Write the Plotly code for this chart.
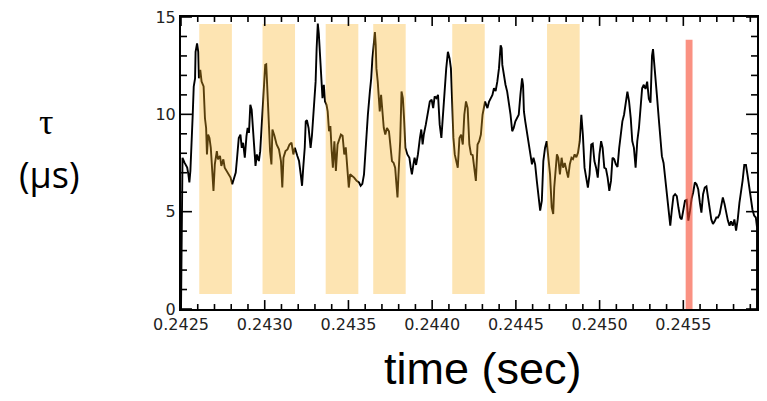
import plotly.graph_objects as go

# ---- data ----
time_s = [
    0.242500, 0.242509, 0.242521, 0.242537, 0.242544, 0.242550, 0.242556, 0.242560, 0.242570, 0.242576,
    0.242584, 0.242587, 0.242596, 0.242603, 0.242607, 0.242615, 0.242623, 0.242635, 0.242643, 0.242650,
    0.242655, 0.242662, 0.242670, 0.242678, 0.242686, 0.242694, 0.242702, 0.242714, 0.242721, 0.242733,
    0.242741, 0.242753, 0.242761, 0.242773, 0.242786, 0.242796, 0.242806, 0.242816, 0.242827, 0.242835,
    0.242845, 0.242855, 0.242863, 0.242871, 0.242881, 0.242891, 0.242898, 0.242906, 0.242914, 0.242922,
    0.242930, 0.242938, 0.242945, 0.242953, 0.242965, 0.242973, 0.242981, 0.242989, 0.242997, 0.243003,
    0.243009, 0.243016, 0.243022, 0.243032, 0.243040, 0.243046, 0.243058, 0.243071, 0.243085, 0.243097,
    0.243105, 0.243112, 0.243124, 0.243136, 0.243148, 0.243160, 0.243171, 0.243180, 0.243195, 0.243205,
    0.243215, 0.243223, 0.243230, 0.243239, 0.243245, 0.243252, 0.243262, 0.243268, 0.243274, 0.243282,
    0.243289, 0.243298, 0.243304, 0.243310, 0.243317, 0.243323, 0.243329, 0.243337, 0.243345, 0.243353,
    0.243360, 0.243369, 0.243376, 0.243384, 0.243392, 0.243400, 0.243407, 0.243416, 0.243425, 0.243435,
    0.243447, 0.243455, 0.243465, 0.243475, 0.243484, 0.243494, 0.243502, 0.243510, 0.243522, 0.243534,
    0.243549, 0.243563, 0.243573, 0.243583, 0.243593, 0.243600, 0.243608, 0.243616, 0.243628, 0.243636,
    0.243643, 0.243652, 0.243658, 0.243663, 0.243667, 0.243675, 0.243681, 0.243687, 0.243695, 0.243702,
    0.243711, 0.243720, 0.243730, 0.243742, 0.243750, 0.243760, 0.243770, 0.243779, 0.243785, 0.243793,
    0.243799, 0.243809, 0.243817, 0.243825, 0.243832, 0.243840, 0.243852, 0.243864, 0.243872, 0.243879,
    0.243888, 0.243895, 0.243904, 0.243915, 0.243927, 0.243935, 0.243943, 0.243950, 0.243962, 0.243974,
    0.243986, 0.243997, 0.244006, 0.244015, 0.244025, 0.244035, 0.244045, 0.244055, 0.244065, 0.244074,
    0.244084, 0.244094, 0.244104, 0.244112, 0.244120, 0.244127, 0.244135, 0.244143, 0.244153, 0.244163,
    0.244173, 0.244183, 0.244192, 0.244202, 0.244212, 0.244222, 0.244232, 0.244242, 0.244251, 0.244261,
    0.244271, 0.244281, 0.244291, 0.244301, 0.244316, 0.244330, 0.244340, 0.244350, 0.244360, 0.244369,
    0.244379, 0.244389, 0.244399, 0.244409, 0.244415, 0.244419, 0.244428, 0.244438, 0.244448, 0.244458,
    0.244468, 0.244478, 0.244487, 0.244497, 0.244517, 0.244527, 0.244537, 0.244543, 0.244548, 0.244556,
    0.244566, 0.244576, 0.244586, 0.244596, 0.244605, 0.244615, 0.244625, 0.244635, 0.244645, 0.244655,
    0.244664, 0.244674, 0.244684, 0.244694, 0.244704, 0.244714, 0.244723, 0.244729, 0.244737, 0.244745,
    0.244753, 0.244763, 0.244773, 0.244782, 0.244792, 0.244802, 0.244812, 0.244822, 0.244832, 0.244841,
    0.244851, 0.244861, 0.244871, 0.244881, 0.244891, 0.244900, 0.244910, 0.244920, 0.244930, 0.244940,
    0.244950, 0.244959, 0.244969, 0.244979, 0.244989, 0.244999, 0.245009, 0.245018, 0.245028, 0.245038,
    0.245048, 0.245058, 0.245068, 0.245077, 0.245087, 0.245097, 0.245107, 0.245117, 0.245127, 0.245136,
    0.245146, 0.245156, 0.245166, 0.245176, 0.245186, 0.245195, 0.245205, 0.245215, 0.245225, 0.245235,
    0.245245, 0.245254, 0.245264, 0.245274, 0.245284, 0.245294, 0.245304, 0.245313, 0.245319, 0.245327,
    0.245335, 0.245343, 0.245353, 0.245363, 0.245372, 0.245382, 0.245392, 0.245402, 0.245412, 0.245422,
    0.245431, 0.245441, 0.245451, 0.245461, 0.245471, 0.245481, 0.245490, 0.245500, 0.245510, 0.245520,
    0.245530, 0.245540, 0.245549, 0.245559, 0.245569, 0.245579, 0.245589, 0.245599, 0.245608, 0.245618,
    0.245628, 0.245638, 0.245648, 0.245658, 0.245667, 0.245677, 0.245687, 0.245697, 0.245707, 0.245717,
    0.245726, 0.245736, 0.245746, 0.245756, 0.245766, 0.245776, 0.245785, 0.245795, 0.245805, 0.245815,
    0.245825, 0.245835, 0.245844, 0.245854, 0.245864, 0.245874, 0.245884, 0.245894, 0.245903, 0.245913,
    0.245923, 0.245933, 0.245940, 0.245940,
]
tau_us = [
    0.0, 7.77, 7.52, 7.26, 6.92, 6.50, 7.09, 8.28, 9.98, 11.43,
    11.85, 13.21, 13.64, 13.21, 11.85, 12.28, 11.68, 11.43, 9.81, 9.30,
    7.94, 8.96, 8.79, 8.28, 7.26, 6.07, 7.43, 8.11, 7.69, 7.86,
    7.35, 7.69, 7.26, 7.09, 6.92, 6.75, 6.41, 6.75, 7.01, 7.77,
    8.79, 8.96, 8.28, 8.54, 7.77, 8.88, 9.30, 9.05, 10.49, 10.24,
    9.13, 7.77, 7.35, 7.94, 7.60, 8.11, 9.30, 10.49, 11.26, 12.54,
    12.57, 11.20, 9.30, 8.11, 7.43, 9.22, 8.90, 8.45, 8.20, 7.60,
    6.24, 7.77, 8.11, 8.20, 8.45, 8.54, 7.94, 8.28, 7.86, 7.60,
    6.92, 6.33, 7.26, 8.28, 9.64, 9.70, 9.30, 8.79, 8.28, 8.90,
    9.98, 10.83, 11.68, 13.38, 14.66, 14.15, 13.21, 11.68, 10.83, 11.52,
    10.66, 10.49, 10.15, 9.13, 9.40, 8.11, 7.26, 8.62, 7.09, 8.45,
    8.71, 8.96, 8.90, 7.94, 8.30, 7.26, 6.24, 6.92, 6.85, 6.75,
    6.58, 6.50, 6.33, 6.43, 6.92, 7.94, 8.96, 9.98, 11.17, 11.85,
    12.87, 13.72, 14.23, 13.55, 12.36, 11.68, 11.00, 10.15, 11.00, 9.98,
    9.30, 8.96, 9.30, 9.13, 8.28, 7.60, 7.50, 7.26, 6.58, 5.73,
    6.92, 8.62, 11.17, 10.83, 9.81, 8.28, 7.94, 7.77, 7.26, 6.92,
    7.43, 7.77, 7.40, 7.94, 8.79, 9.22, 8.45, 8.96, 9.47, 9.98,
    10.66, 10.75, 10.32, 10.92, 10.83, 11.00, 9.47, 8.79, 10.15, 11.34,
    12.36, 13.21, 12.87, 12.36, 10.15, 8.79, 7.94, 7.60, 7.26, 8.79,
    8.96, 8.45, 9.98, 10.66, 10.32, 8.45, 7.94, 7.90, 7.26, 6.58,
    8.45, 8.62, 8.96, 9.98, 10.66, 10.32, 10.66, 10.83, 11.00, 11.34,
    11.20, 11.68, 12.36, 13.55, 13.40, 12.54, 12.03, 11.52, 11.17, 10.66,
    9.98, 9.13, 9.30, 9.64, 9.98, 11.00, 11.85, 11.50, 10.15, 9.64,
    9.13, 8.62, 7.94, 7.43, 7.77, 7.43, 6.58, 5.73, 5.05, 5.56,
    7.60, 8.28, 8.62, 7.77, 6.92, 5.22, 4.88, 6.24, 7.26, 7.94,
    7.77, 6.92, 7.77, 7.26, 7.50, 7.09, 6.75, 7.43, 7.77, 7.70,
    7.94, 7.80, 8.03, 8.62, 9.98, 8.96, 7.26, 6.75, 6.24, 6.92,
    8.45, 8.50, 7.60, 7.26, 6.75, 7.94, 8.62, 8.28, 7.26, 7.20,
    6.75, 6.07, 6.58, 7.77, 7.70, 7.43, 7.30, 8.28, 8.96, 9.64,
    9.98, 10.66, 11.17, 10.66, 9.81, 8.62, 8.28, 7.26, 8.62, 9.30,
    10.32, 11.34, 11.52, 11.30, 11.68, 10.80, 10.60, 13.00, 13.35, 12.36,
    11.50, 10.90, 9.81, 8.50, 7.85, 7.50, 6.75, 5.90, 4.95, 4.28,
    5.05, 5.80, 5.90, 5.80, 5.20, 4.70, 4.60, 5.05, 5.56, 5.60,
    4.54, 5.05, 5.65, 6.00, 6.50, 6.41, 6.15, 5.45, 4.95, 5.90,
    6.24, 6.30, 5.70, 5.10, 4.60, 4.37, 4.50, 4.70, 4.70, 4.88,
    5.39, 5.73, 5.40, 4.95, 4.54, 4.28, 4.50, 4.28, 4.60, 4.03,
    4.60, 5.45, 5.90, 6.60, 7.40, 7.40, 6.85, 6.15, 5.55, 5.10,
    4.80, 4.70, 4.20, 0.0,
]

# highlighted intervals (seconds)
band_start = [0.242609, 0.242987, 0.243364, 0.243648, 0.244120, 0.244686]
band_end = [0.242804, 0.243181, 0.243559, 0.243842, 0.244314, 0.244881]
band_low, band_high = 0.77, 14.64
marker_start, marker_end = 0.245514, 0.245555
marker_low, marker_high = 0.0, 13.83

# axes
x_range = [0.2425, 0.24594]
y_range = [0, 15]
x_major_ticks = [0.2425, 0.2430, 0.2435, 0.2440, 0.2445, 0.2450, 0.2455]
x_tick_labels = ["0.2425", "0.2430", "0.2435", "0.2440", "0.2445", "0.2450", "0.2455"]
x_minor_ticks = [round(0.2425 + 0.0001 * i, 4) for i in range(35) if i % 5 != 0]
y_major_ticks = [0, 5, 10, 15]
y_tick_labels = ["0", "5", "10", "15"]
y_minor_ticks = [v for v in range(16) if v % 5 != 0]

# page geometry
W, H = 767, 401
M_L, M_R, M_T, M_B = 181, 8, 15, 92
plot_w = W - M_L - M_R
plot_h = H - M_T - M_B
x_per_px = (x_range[1] - x_range[0]) / plot_w
y_per_px = (y_range[1] - y_range[0]) / plot_h

fig = go.Figure()
fig.add_trace(go.Scatter(
    x=time_s, y=tau_us, mode="lines",
    line=dict(color="black", width=1.9),
))


def add_box(x0, x1, y0, y1, color):
    fig.add_trace(go.Scatter(
        x=[x0, x1, x1, x0, x0], y=[y0, y0, y1, y1, y0],
        mode="lines", fill="toself", fillcolor=color,
        line=dict(width=0, color=color), hoverinfo="skip",
    ))


for x0, x1 in zip(band_start, band_end):
    add_box(x0, x1, band_low, band_high, "rgba(249,178,35,0.35)")
add_box(marker_start, marker_end, marker_low, marker_high, "rgba(247,72,47,0.6)")

# inward tick marks on all four sides (IDL style)
tx, ty = [], []
for vals, length in ((x_major_ticks, 9), (x_minor_ticks, 5)):
    dy = length * y_per_px
    for t in vals:
        tx += [t, t, None, t, t, None]
        ty += [y_range[0], y_range[0] + dy, None, y_range[1], y_range[1] - dy, None]
for vals, length in ((y_major_ticks, 11), (y_minor_ticks, 6)):
    dx = length * x_per_px
    for v in vals:
        tx += [x_range[0], x_range[0] + dx, None, x_range[1], x_range[1] - dx, None]
        ty += [v, v, None, v, v, None]
fig.add_trace(go.Scatter(x=tx, y=ty, mode="lines", line=dict(color="black", width=1.6),
                         hoverinfo="skip", connectgaps=False))

tick_font = dict(family="DejaVu Sans", size=16, color="#222")

fig.update_xaxes(
    range=x_range, showline=True, linecolor="black", linewidth=2, mirror=True,
    tickmode="array", tickvals=x_major_ticks, ticktext=x_tick_labels, ticks="",
    tickfont=tick_font, showgrid=False, zeroline=False,
)
fig.update_yaxes(
    range=y_range, showline=True, linecolor="black", linewidth=2, mirror=True,
    tickmode="array", tickvals=y_major_ticks, ticktext=y_tick_labels, ticks="",
    tickfont=tick_font, showgrid=False, zeroline=False,
)

fig.add_annotation(text="τ", xref="paper", yref="paper", x=-0.234, y=0.64,
                   xanchor="center", yanchor="middle", showarrow=False,
                   font=dict(family="Liberation Serif", size=36, color="black"))
fig.add_annotation(text="(µs)", xref="paper", yref="paper", x=-0.229, y=0.459,
                   xanchor="center", yanchor="middle", showarrow=False,
                   font=dict(family="Open Sans", size=36, color="black"))
fig.add_annotation(text="time (sec)", xref="paper", yref="paper", x=0.525, y=-0.205,
                   xanchor="center", yanchor="middle", showarrow=False,
                   font=dict(family="Liberation Sans", size=45, color="black"))

fig.update_layout(
    width=W, height=H,
    margin=dict(l=M_L, r=M_R, t=M_T, b=M_B),
    paper_bgcolor="white", plot_bgcolor="white", showlegend=False,
)

fig.write_html("out.html")
